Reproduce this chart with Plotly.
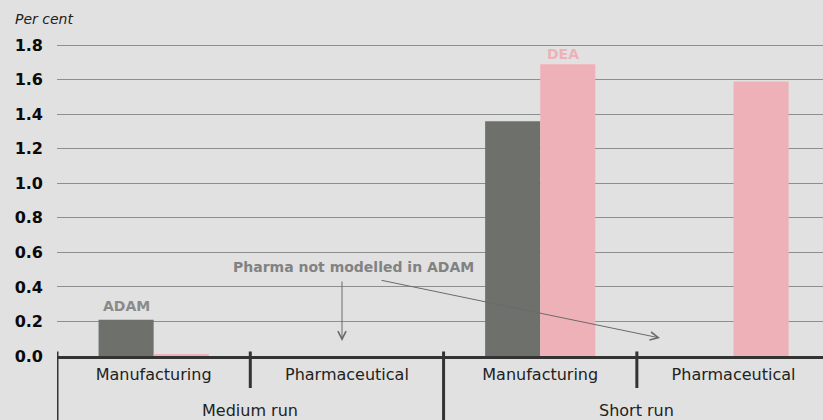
import plotly.graph_objects as go

# data
outer = ['Medium run', 'Short run']
inner = ['Manufacturing', 'Pharmaceutical', 'Manufacturing', 'Pharmaceutical']
adam = [0.21, None, 1.36, None]
dea = [0.01, None, 1.69, 1.59]
y_ticks = [0.0, 0.2, 0.4, 0.6, 0.8, 1.0, 1.2, 1.4, 1.6, 1.8]

W, H = 823, 420
ML, MR, MT, MB = 57, 0, 28, 64
XR = [-0.5, 3.463]
YR = [0, 1.9]
BARGAP = 0.43

FONT = 'DejaVu Sans'
BG = '#E1E1E1'
AXC = '#333333'


def py(y):
    # pixel row -> paper y
    return (H - MB - y) / (H - MT - MB)


xs = list(range(len(inner)))
half = (1 - BARGAP) / 4   # offset of each bar centre from the category centre

fig = go.Figure()
fig.add_trace(go.Bar(x=xs, y=adam, name='ADAM',
                     marker=dict(color='#6E706C', line=dict(width=0))))
fig.add_trace(go.Bar(x=xs, y=dea, name='DEA',
                     marker=dict(color='#EEB1B8', line=dict(width=0))))

fig.update_layout(
    width=W, height=H, paper_bgcolor=BG, plot_bgcolor=BG,
    margin=dict(l=ML, r=MR, t=MT, b=MB, pad=0),
    barmode='group', bargap=BARGAP, bargroupgap=0,
    showlegend=False, font=dict(family=FONT, color='#222222'),
)

fig.update_xaxes(
    range=XR, tickvals=xs, ticktext=inner, showgrid=False, zeroline=False,
    showline=True, linecolor=AXC, linewidth=3, ticks='', ticklabelstandoff=2,
    tickfont=dict(size=16, color='#222222'),
)
fig.update_yaxes(
    range=YR, tickvals=y_ticks, ticktext=[f'{v:.1f}' for v in y_ticks],
    showgrid=True, gridcolor='#8E8E8E', gridwidth=1, zeroline=False,
    ticks='', ticklabelstandoff=13,
    tickfont=dict(size=16, color='#0A0A0A', weight='bold'),
)

# dividers: long ones between outer groups, short ones between inner categories
for c in [-0.5, 0.5, 1.5, 2.5]:
    long_ = c in (-0.5, 1.5)
    fig.add_shape(type='line', xref='x', yref='paper',
                  x0=c, x1=c, y0=py(351.5), y1=py(420 if long_ else 388),
                  line=dict(color=AXC, width=3))

annot = []
for i, name in enumerate(outer):
    annot.append(dict(xref='x', yref='paper', x=2 * i + 0.5, y=py(410),
                      xanchor='center', yanchor='middle', text=name, showarrow=False,
                      font=dict(size=16, color='#222222')))
annot.append(dict(xref='paper', yref='paper', x=(13 - ML) / (W - ML - MR), y=py(19),
                  xanchor='left', yanchor='middle',
                  text='<i>Per cent</i>', showarrow=False,
                  font=dict(size=14, color='#222222')))
annot.append(dict(xref='x', yref='y', x=xs[0] - half, y=adam[0],
                  xanchor='center', yanchor='bottom', yshift=4,
                  text='<b>ADAM</b>', showarrow=False,
                  font=dict(size=14, color='#8A8A8A')))
annot.append(dict(xref='x', yref='y', x=xs[2] + half, y=dea[2],
                  xanchor='center', yanchor='bottom', yshift=0, xshift=-5,
                  text='<b>DEA</b>', showarrow=False,
                  font=dict(size=14, color='#EEB1B8')))
annot.append(dict(xref='x', yref='paper', x=1.035, y=py(267),
                  xanchor='center', yanchor='middle',
                  text='<b>Pharma not modelled in ADAM</b>', showarrow=False,
                  font=dict(size=14, color='#828282')))
# arrows (tail pixel -> head pixel)
for (x0, y0, x1, y1) in [(342, 280, 342, 341), (380, 280, 660, 338)]:
    annot.append(dict(xref='paper', yref='paper', x=(x1 - ML) / (W - ML - MR), y=py(y1),
                      axref='pixel', ayref='pixel', ax=x0 - x1, ay=y0 - y1,
                      text='', showarrow=True, arrowhead=5, arrowsize=1.6,
                      arrowwidth=1, arrowcolor='#6A6A6A', standoff=0, startstandoff=0))
fig.update_layout(annotations=annot)

fig.write_html('out.html', config={'displayModeBar': False},
               post_script="document.body.style.margin='0';")
